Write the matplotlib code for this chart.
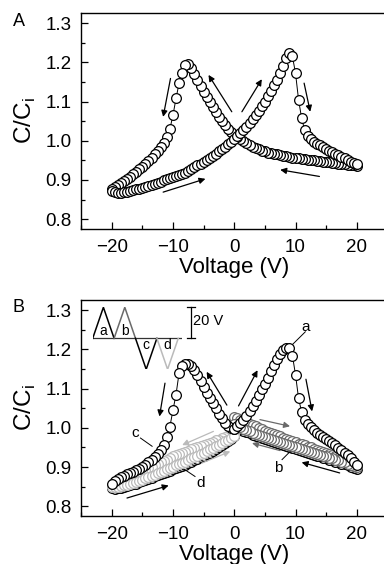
import matplotlib
matplotlib.use('Agg')
import matplotlib.pyplot as plt
import numpy as np
from matplotlib.ticker import MultipleLocator, FormatStrFormatter

plt.rcParams['font.family'] = ['Liberation Sans', 'DejaVu Sans']
plt.rcParams['mathtext.fontset'] = 'custom'
plt.rcParams['mathtext.rm'] = 'Liberation Sans'

# voltage sweeps, 0.5 V steps
v_full_up = np.arange(-20, 20.5, 0.5)
v_full_down = v_full_up[::-1]
v_pos_up = np.arange(0, 20.5, 0.5)
v_pos_down = v_pos_up[::-1]
v_neg_down = -v_pos_up
v_neg_up = v_neg_down[::-1]

# panel A: full loop, -20 -> 20 then 20 -> -20
cap_a_up = [0.873, 0.869, 0.868, 0.868, 0.869, 0.870, 0.872, 0.874, 0.876, 0.878,
            0.880, 0.882, 0.885, 0.887, 0.890, 0.893, 0.896, 0.899, 0.902, 0.905,
            0.907, 0.910, 0.913, 0.916, 0.919, 0.923, 0.927, 0.932, 0.937, 0.941,
            0.946, 0.951, 0.956, 0.961, 0.967, 0.973, 0.979, 0.985, 0.991, 0.998,
            1.005,
            1.013, 1.020, 1.028, 1.036, 1.045, 1.055, 1.065, 1.076, 1.088, 1.100,
            1.113, 1.127, 1.141, 1.156, 1.172, 1.190, 1.210, 1.224, 1.215, 1.172,
            1.104, 1.057, 1.027, 1.012, 1.004, 0.998, 0.993, 0.988, 0.983, 0.979,
            0.975, 0.971, 0.967, 0.963, 0.959, 0.955, 0.951, 0.947, 0.944, 0.940]
cap_a_down = [0.936, 0.937, 0.938, 0.939, 0.940, 0.941, 0.942, 0.943, 0.944, 0.945,
              0.946, 0.947, 0.948, 0.949, 0.950, 0.951, 0.952, 0.953, 0.954, 0.955,
              0.956, 0.957, 0.958, 0.960, 0.962, 0.963, 0.965, 0.966, 0.968, 0.970,
              0.973, 0.975, 0.978, 0.981, 0.985, 0.989, 0.994, 0.999, 1.004, 1.010,
              1.016,
              1.023, 1.031, 1.040, 1.050, 1.061, 1.073, 1.085, 1.098, 1.111, 1.125,
              1.140, 1.156, 1.171, 1.186, 1.196, 1.193, 1.172, 1.147, 1.108, 1.065,
              1.030, 1.010, 0.995, 0.983, 0.973, 0.965, 0.957, 0.949, 0.941, 0.934,
              0.927, 0.920, 0.914, 0.908, 0.902, 0.897, 0.892, 0.887, 0.882, 0.877]

# panel B: a (0 -> 20 -> 0), b (same, second time), c (0 -> -20 -> 0), d (second time)
cap_a_fwd = [0.998, 1.004, 1.012, 1.021, 1.031, 1.043, 1.056, 1.069, 1.083, 1.098,
             1.113, 1.128, 1.144, 1.160, 1.175, 1.189, 1.199, 1.204, 1.203, 1.184,
             1.135, 1.075, 1.040, 1.021, 1.010, 1.002, 0.995, 0.988, 0.982, 0.976,
             0.971, 0.966, 0.961, 0.955, 0.949, 0.943, 0.937, 0.930, 0.922, 0.913,
             0.905]
cap_a_back = [0.896, 0.898, 0.901, 0.904, 0.907, 0.909, 0.912, 0.914, 0.917, 0.919,
              0.922, 0.924, 0.927, 0.929, 0.932, 0.934, 0.937, 0.939, 0.942, 0.944,
              0.947, 0.949, 0.952, 0.954, 0.957, 0.959, 0.962, 0.964, 0.967, 0.969,
              0.972, 0.975, 0.977, 0.980, 0.983, 0.986, 0.989, 0.993, 0.996, 1.000,
              1.004]
cap_b_fwd = [1.027, 1.024, 1.021, 1.018, 1.014, 1.011, 1.007, 1.004, 1.000, 0.997,
             0.993, 0.990, 0.987, 0.984, 0.981, 0.978, 0.975, 0.972, 0.969, 0.966,
             0.963, 0.960, 0.958, 0.955, 0.952, 0.950, 0.947, 0.944, 0.942, 0.939,
             0.936, 0.933, 0.930, 0.927, 0.924, 0.921, 0.918, 0.914, 0.911, 0.907,
             0.903]
cap_b_back = [0.901, 0.903, 0.906, 0.909, 0.912, 0.914, 0.917, 0.919, 0.922, 0.924,
              0.927, 0.929, 0.932, 0.934, 0.937, 0.939, 0.942, 0.944, 0.947, 0.949,
              0.952, 0.954, 0.957, 0.959, 0.962, 0.964, 0.967, 0.969, 0.972, 0.974,
              0.977, 0.980, 0.982, 0.985, 0.988, 0.991, 0.994, 0.998, 1.001, 1.005,
              1.009]
cap_c_fwd = [0.996, 0.999, 1.004, 1.012, 1.024, 1.036, 1.050, 1.063, 1.076, 1.089,
             1.104, 1.120, 1.134, 1.147, 1.157, 1.162, 1.163, 1.159, 1.140, 1.085,
             1.045, 1.003, 0.976, 0.957, 0.943, 0.933, 0.925, 0.918, 0.912, 0.906,
             0.901, 0.896, 0.892, 0.888, 0.885, 0.882, 0.878, 0.874, 0.870, 0.864,
             0.857]
cap_c_back = [0.846, 0.845, 0.846, 0.847, 0.849, 0.851, 0.853, 0.856, 0.858, 0.861,
              0.864, 0.867, 0.870, 0.873, 0.876, 0.879, 0.882, 0.885, 0.888, 0.891,
              0.894, 0.897, 0.900, 0.903, 0.906, 0.910, 0.913, 0.917, 0.921, 0.925,
              0.929, 0.933, 0.937, 0.942, 0.946, 0.951, 0.956, 0.961, 0.966, 0.972,
              0.978]
cap_d_fwd = [0.985, 0.982, 0.979, 0.976, 0.973, 0.970, 0.968, 0.965, 0.962, 0.960,
             0.957, 0.954, 0.951, 0.948, 0.945, 0.942, 0.939, 0.936, 0.933, 0.930,
             0.927, 0.923, 0.919, 0.916, 0.912, 0.908, 0.905, 0.901, 0.897, 0.893,
             0.889, 0.885, 0.881, 0.877, 0.874, 0.870, 0.866, 0.862, 0.858, 0.855,
             0.852]
cap_d_back = [0.849, 0.849, 0.850, 0.851, 0.853, 0.855, 0.857, 0.860, 0.862, 0.865,
              0.868, 0.871, 0.874, 0.877, 0.880, 0.884, 0.887, 0.890, 0.894, 0.897,
              0.900, 0.904, 0.907, 0.911, 0.914, 0.918, 0.922, 0.925, 0.929, 0.933,
              0.937, 0.941, 0.945, 0.949, 0.953, 0.957, 0.961, 0.966, 0.970, 0.975,
              0.980]

# inset waveform (time in half periods, voltage)
wave_t = [0, 1, 2, 3, 4, 5, 6, 7, 8]
wave_v = [0, 20, 0, 20, 0, -20, 0, -20, 0]
wave_names = ['a', 'b', 'c', 'd']

# arrows (start, end) in data units
arrows_a = [((-10.4, 1.159), (-11.6, 1.061)), ((-0.4, 1.074), (-4.2, 1.168)),
            ((1.25, 1.074), (4.5, 1.157)), ((11.4, 1.147), (12.4, 1.074)),
            ((13.9, 0.909), (7.5, 0.926)), ((-11.6, 0.869), (-4.7, 0.903))]
arrows_b_black = [((-11.3, 1.114), (-12.2, 1.029)), ((-1.2, 1.058), (-4.5, 1.143)),
                  ((0.7, 1.056), (3.8, 1.147)), ((11.7, 1.124), (12.7, 1.042)),
                  ((17.2, 0.885), (11.0, 0.912)), ((-17.5, 0.821), (-10.7, 0.853))]
arrows_b_gray = [((4.2, 1.021), (9.1, 1.004)), ((7.5, 0.942), (2.9, 0.961))]
arrows_b_light = [((-3.4, 0.991), (-8.5, 0.956)), ((-5.3, 0.910), (-0.65, 0.940))]

# curve labels: text position, leader start, leader end
curve_labels = [('a', (11.7, 1.258), (11.6, 1.245), (9.4, 1.211)),
                ('b', (7.2, 0.898), (7.8, 0.919), (9.4, 0.944)),
                ('c', (-16.2, 0.987), (-15.3, 0.974), (-13.4, 0.953)),
                ('d', (-5.5, 0.859), (-6.4, 0.876), (-8.5, 0.898))]

black = 'black'
gray = '#6a6a6a'
light = '#bababa'


def sweep(ax, v, c, color, z):
    ax.plot(v, c, '-o', color=color, lw=0.7, ms=7.0, mfc='white', mec=color,
            mew=0.9, zorder=z)


def arrow(ax, start, end, color):
    ax.annotate('', xy=end, xytext=start,
                arrowprops=dict(arrowstyle='-|>', color=color, lw=0.9,
                                mutation_scale=9, shrinkA=0, shrinkB=0))


def style(ax):
    ax.set_xlim(-25, 25)
    ax.set_ylim(0.775, 1.326)
    ax.xaxis.set_major_locator(MultipleLocator(10))
    ax.xaxis.set_minor_locator(MultipleLocator(5))
    ax.yaxis.set_major_locator(MultipleLocator(0.1))
    ax.yaxis.set_minor_locator(MultipleLocator(0.05))
    ax.yaxis.set_major_formatter(FormatStrFormatter('%.1f'))
    ax.tick_params(which='both', direction='in', top=False, right=False,
                   labelsize=13.5, pad=7, width=0.9)
    ax.tick_params(which='major', length=5)
    ax.tick_params(which='minor', length=3)
    for s in ax.spines.values():
        s.set_linewidth(1.0)
    ax.set_xlabel('Voltage (V)', fontsize=16, labelpad=1)
    ax.set_ylabel('C/C$_\\mathregular{i}$', fontsize=17.5, labelpad=5)


fig = plt.figure(figsize=(3.84, 5.64), dpi=100)
ax1 = fig.add_axes([0.211, 0.594, 0.798, 0.383])
ax2 = fig.add_axes([0.211, 0.085, 0.798, 0.383])

# panel A
sweep(ax1, v_full_down, cap_a_down, black, 2)
sweep(ax1, v_full_up, cap_a_up, black, 3)
for s, e in arrows_a:
    arrow(ax1, s, e, black)
style(ax1)

# panel B
sweep(ax2, v_neg_up, cap_c_back, black, 2)
sweep(ax2, v_pos_down, cap_a_back, black, 2)
sweep(ax2, v_neg_down, cap_d_fwd, light, 3)
sweep(ax2, v_neg_up, cap_d_back, light, 3)
sweep(ax2, v_pos_up, cap_b_fwd, gray, 3)
sweep(ax2, v_pos_down, cap_b_back, gray, 3)
sweep(ax2, v_neg_down, cap_c_fwd, black, 4)
sweep(ax2, v_pos_up, cap_a_fwd, black, 4)
for s, e in arrows_b_black:
    arrow(ax2, s, e, black)
for s, e in arrows_b_gray:
    arrow(ax2, s, e, gray)
for s, e in arrows_b_light:
    arrow(ax2, s, e, light)
for name, tpos, l0, l1 in curve_labels:
    ax2.text(tpos[0], tpos[1], name, fontsize=11, ha='center', va='center')
    ax2.plot([l0[0], l1[0]], [l0[1], l1[1]], color=black, lw=0.7)
style(ax2)

# inset: voltage waveform
ins = fig.add_axes([0.2414, 0.3452, 0.2318, 0.1099])
ins.set_xlim(0, 8.32)
ins.set_ylim(-20, 20)
ins.axis('off')
ins.plot([0, 8.32], [0, 0], color='#333333', lw=0.9)
wave_colors = [black, gray, black, light]
for i, name in enumerate(wave_names):
    seg = slice(2 * i, 2 * i + 3)
    ins.plot(wave_t[seg], wave_v[seg], color=wave_colors[i], lw=1.1)
    peak = wave_v[2 * i + 1]
    ins.text(wave_t[2 * i + 1], 0.22 * peak, name, fontsize=10,
             ha='center', va='center')
# 20 V scale bar
ins.plot([9.19, 9.19], [0, 20], color=black, lw=0.9, clip_on=False)
ins.plot([8.8, 9.6], [20, 20], color=black, lw=0.9, clip_on=False)
ins.plot([8.8, 9.6], [0, 0], color=black, lw=0.9, clip_on=False)
ins.text(9.4, 11, '20 V', fontsize=10.5, ha='left', va='center', clip_on=False)

fig.text(18.5 / 384, 1 - 21 / 564, 'A', fontsize=13, ha='center', va='center')
fig.text(19 / 384, 1 - 307 / 564, 'B', fontsize=13, ha='center', va='center')

fig.savefig('out.png', dpi=100)
